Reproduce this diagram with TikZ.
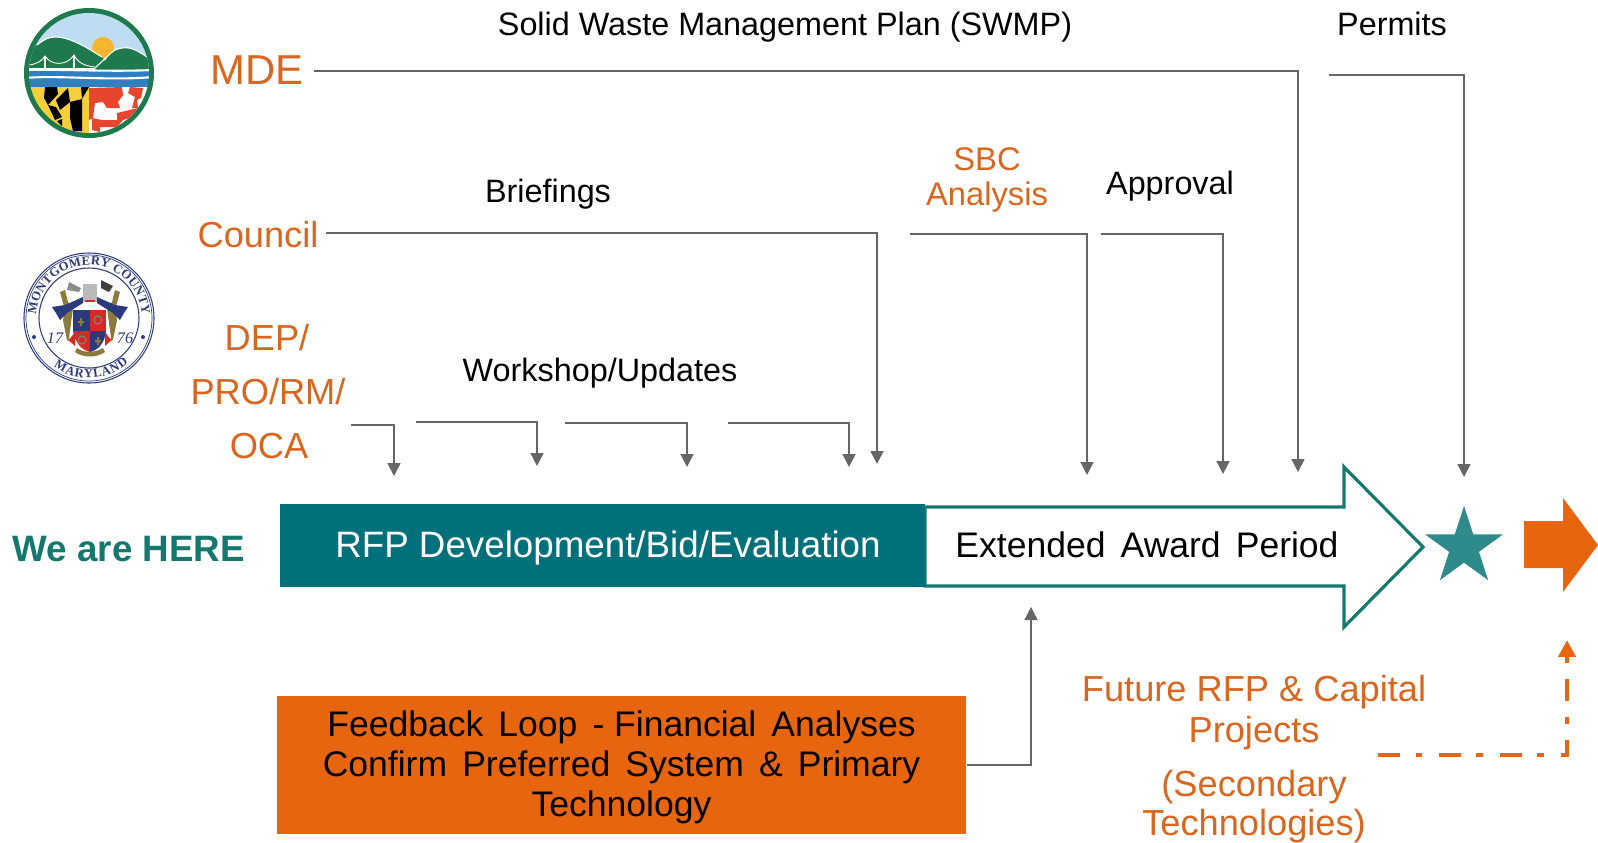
\documentclass[tikz,border=0pt]{standalone}
\usepackage{fontspec}
\setmainfont{Liberation Sans}
\newfontfamily\sealfont{Liberation Serif}
\usetikzlibrary{arrows.meta,shapes.geometric,decorations.text}
\definecolor{rfporange}{HTML}{E8650F}
\definecolor{labelorange}{HTML}{D9661F}
\definecolor{rfpteal}{HTML}{00707A}
\definecolor{startteal}{HTML}{2F8A8C}
\definecolor{outlineteal}{HTML}{14786E}
\definecolor{guidegray}{HTML}{666666}
\definecolor{mdegreen}{HTML}{1E7A4C}
\definecolor{mdesky}{HTML}{BFDDF2}
\definecolor{mdeblue}{HTML}{2F7FC1}
\definecolor{flagyellow}{HTML}{F6CE3A}
\definecolor{flagred}{HTML}{E8452F}
\definecolor{sunyellow}{HTML}{F5B52E}
\definecolor{sealblue}{HTML}{2B3A7C}
\definecolor{sealolive}{HTML}{8A7A3C}
\definecolor{sealred}{HTML}{D42A22}
\newcommand\sealtext{\color{sealblue}\sealfont\bfseries\fontsize{3.6}{5}\selectfont}
\tikzset{
  blackline/.style={font=\fontsize{9.2}{11}\selectfont,text=black},
  orangeline/.style={font=\fontsize{10.3}{12}\selectfont,text=labelorange},
  guide/.style={draw=guidegray,line width=0.4pt,-{Triangle[width=3.7pt,length=3.7pt]}},
  returnline/.style={draw=rfporange,line width=1.4pt,dash pattern=on 6.2pt off 4.5pt on 1.9pt off 4.7pt,-{Triangle[width=4.8pt,length=4.8pt]}},
}
\begin{document}
\begin{tikzpicture}[x=0.01cm,y=-0.01cm]
        \useasboundingbox (0,0) rectangle (1598,842);

        \begin{scope}[shift={(89,73)},x=0.01cm,y=0.01cm]
          \fill[mdegreen] (0,0) circle (65);
          \begin{scope}
            \clip (0,0) circle (60);
            \fill[mdesky] (-64,64) rectangle (64,0);
            \fill[sunyellow] (14,25) circle (11);
            \fill[mdegreen] (-64,18) -- (-52,28) .. controls (-44,34) and (-40,36) .. (-34,36) .. controls (-18,36) and (0,24) .. (13,16) -- (16,12) .. controls (20,18) and (24,23) .. (30,24) .. controls (40,27) and (50,22) .. (58,16) -- (64,10) -- (64,-5) -- (-64,-5) -- cycle;
            \draw[white,line width=0.3pt] (-52,28) .. controls (-44,34) and (-40,36) .. (-34,36) .. controls (-18,36) and (0,24) .. (13,16);
            \draw[white,line width=0.3pt] (6,5) -- (22,20) .. controls (26,24) and (32,26) .. (40,25) .. controls (46,24) and (52,20) .. (58,16);
            \draw[white,line width=0.3pt] (-60,4) -- (6,4);
            \draw[white,line width=0.3pt] (-44,4) -- (-44,17) (-15,4) -- (-15,18);
            \draw[white,line width=0.25pt] (-60,8) .. controls (-52,9) and (-47,12) .. (-44,17) .. controls (-38,7) and (-22,7) .. (-15,18) .. controls (-11,10) and (-4,7) .. (6,6);
            \fill[mdeblue] (-64,3) rectangle (64,-14);
            \draw[white,line width=0.6pt] (-64,3) .. controls (-30,4) and (20,1) .. (64,3);
            \draw[white,line width=0.6pt] (-64,-5) .. controls (-30,-2) and (20,-8) .. (64,-4);
            \fill[flagyellow] (-64,-14) rectangle (0,-64);
            \fill[white] (0,-14) rectangle (64,-64);
            \fill[black] (-44,-14) -- (-32,-14) -- (-31,-21) -- (-41,-32) -- (-45,-25) -- cycle;
            \fill[black] (-8,-14) -- (0,-14) -- (-7,-26) -- cycle;
            \fill[black] (-21,-15) -- (-19,-29) -- (-29,-37) -- (-33,-27) -- cycle;
            \fill[black] (-19,-29) -- (-7,-26) -- (-7,-58) -- (-16,-58) -- (-19,-45) -- cycle;
            \fill[black] (-41,-32) -- (-34,-47) -- (-27,-44) -- (-33,-34) -- cycle;
            \fill[black] (-32,-48) -- (-27,-46) -- (-27,-53) -- cycle;
            \fill[flagred] (0,-15) -- (33,-14) -- (34,-22) -- (29,-29) -- (31,-35) -- (18,-35) -- (14,-29) -- (6,-30) -- (4,-45) -- (0,-47) -- cycle;
            \fill[flagred] (41,-14) -- (54,-15) -- (52,-25) -- (48,-27) -- (49,-35) -- (43,-35) -- (46,-24) -- (39,-20) -- cycle;
            \fill[flagred] (3,-45) -- (13,-47) -- (28,-47) -- (28,-40) -- (49,-35) -- (44,-44) -- (34,-47) -- (28,-54) -- (11,-54) -- (11,-59) -- (3,-57) -- cycle;
          \end{scope}
        \end{scope}

        \begin{scope}[shift={(89,318)},x=0.01cm,y=0.01cm]
          \draw[sealblue,line width=0.3pt] (0,0) circle (65);
          \draw[sealblue,line width=0.2pt] (0,0) circle (63);
          \draw[sealblue,line width=0.3pt] (0,0) circle (50);
          \path[decorate,decoration={text along path,text align={fit to path},text={|\sealtext|MONTGOMERY COUNTY}}] (176:53) arc (176:4:53);
          \path[decorate,decoration={text along path,text align={fit to path},text={|\sealtext|MARYLAND}}] (234:60) arc (234:311:60);
          \fill[sealblue] (-55,-19) circle (2) (54,-19) circle (2);
          \node[text=sealblue] (seala) at (-34,-20) {\sealfont\itshape\fontsize{4.6}{6}\selectfont 17};
          \node[text=sealblue] (sealb) at (36,-20) {\sealfont\itshape\fontsize{4.6}{6}\selectfont 76};
          \fill[sealolive] (-14,-34) .. controls (-6,-40) and (8,-40) .. (16,-34) -- (14,-30) .. controls (6,-35) and (-6,-35) .. (-12,-30) -- cycle;
          \fill[sealolive] (-29,26) -- (-24,28) -- (-21,16) -- (-16,10) -- (-20,-20) -- (-16,-25) -- (-22,-22) -- (-26,-2) -- (-24,8) -- cycle;
          \fill[sealolive] (31,26) -- (26,28) -- (23,16) -- (18,10) -- (22,-20) -- (18,-25) -- (24,-22) -- (28,-2) -- (26,8) -- cycle;
          \fill[sealblue] (-37,11) -- (-24,13) -- (-6,21) -- (-6,15) -- (-22,5) -- (-29,-2) -- (-33,5) -- cycle;
          \fill[sealblue] (39,11) -- (26,13) -- (8,21) -- (8,15) -- (24,5) -- (31,-2) -- (35,5) -- cycle;
          \fill[gray!55] (-6,34) -- (8,34) -- (8,16) -- (-6,16) -- cycle;
          \fill[black!75] (12,38) -- (24,32) -- (20,26) -- (12,30) -- cycle;
          \fill[black!45] (-20,36) -- (-8,30) -- (-10,26) -- (-22,28) -- cycle;
          \fill[sealred] (-4,18) rectangle (6,16);
          \fill[sealblue] (-16,8) -- (1,8) -- (1,-13) -- (-16,-13) -- cycle;
          \fill[sealred] (1,8) -- (17,8) -- (17,-13) -- (1,-13) -- cycle;
          \fill[sealred] (-16,-13) -- (1,-13) -- (1,-34) .. controls (-8,-32) and (-14,-24) .. (-16,-13) -- cycle;
          \fill[sealblue] (1,-13) -- (17,-13) .. controls (16,-24) and (10,-32) .. (1,-34) -- cycle;
          \fill[sealolive] (-9,0) rectangle (-7,-8) (-11,-3) rectangle (-5,-5) (8,-19) rectangle (10,-27) (6,-22) rectangle (12,-24);
          \draw[black!50,line width=0.35pt] (9,-2) circle (4) (-7,-22) circle (4);
          \fill[sealred] (-20,-22) -- (-14,-14) -- (-14,-28) -- cycle (22,-22) -- (16,-14) -- (16,-28) -- cycle;
        \end{scope}

        \coordinate (neckleft) at (1344,507);
        \fill[white] (925,507) -- (1344,507) -- (1344,467) -- (1423,547) -- (1344,627) -- (1344,586) -- (925,586) -- cycle;
        \draw[outlineteal,line width=0.9pt] (925,507) -- (neckleft) -- (1344,467) -- (1423,547) -- (1344,627) -- (1344,586) -- (925,586) -- cycle;
        \fill[rfporange] (1524,521) -- (1563,521) -- (1563,498) -- (1598,545) -- (1563,592) -- (1563,568) -- (1524,568) -- cycle;

        \node[inner sep=0pt,minimum width=6.45cm,minimum height=0.83cm,fill=rfpteal] (rfpbar) at (602.5,545.5) {};
        \node[text=white,font=\fontsize{10.45}{12}\selectfont] (rfplabel) at (608,548) {RFP Development/Bid/Evaluation};
        \node[text=black,font=\fontsize{10.1}{12}\selectfont] (award) at (1147,545) {Extended\hspace{1.5pt} Award\hspace{1.5pt} Period};
        \node[star,star points=5,star point ratio=2.618,inner sep=0pt,minimum size=0.82cm,fill=startteal] (goal) at (1464,547) {};
        \node[font=\bfseries\fontsize{10.45}{12}\selectfont,text=outlineteal] (here) at (129,549) {We are HERE};

        \node[blackline] (swmp) at (785,27) {Solid Waste Management Plan (SWMP)};
        \node[blackline] (permits) at (1392,24) {Permits};
        \node[blackline] (briefings) at (548,194) {Briefings};
        \node[blackline] (approval) at (1170,186) {Approval};
        \node[blackline] (workshop) at (600,373) {Workshop/Updates};
        \node[orangeline,font=\fontsize{9.3}{11}\selectfont] (sbcone) at (987,159) {SBC};
        \node[orangeline,font=\fontsize{9.3}{11}\selectfont] (sbctwo) at (987,197) {Analysis};

        \node[orangeline,font=\fontsize{11.9}{13}\selectfont] (mde) at (257,70) {MDE};
        \node[orangeline] (council) at (258,235) {Council};
        \node[orangeline] (depone) at (267,338) {DEP/};
        \node[orangeline] (deptwo) at (268,392) {PRO/RM/};
        \node[orangeline] (depthree) at (269,446) {OCA};
        \node[orangeline] (future) at (1254,692) {Future RFP \& Capital};
        \node[orangeline] (projects) at (1254,733) {Projects};
        \node[orangeline] (secondary) at (1254,787) {(Secondary};
        \node[orangeline] (technologies) at (1254,826) {Technologies)};

        \node[inner sep=0pt,minimum width=6.89cm,minimum height=1.37cm,fill=rfporange] (feedback) at (621.5,765) {};
        \node[text=black,align=center,font=\fontsize{10.1}{11.35}\selectfont] (feedbacklabel) at (621.5,767) {Feedback\hspace{1.5pt} Loop\hspace{1.5pt} - Financial\hspace{1.5pt} Analyses\\Confirm\hspace{1.5pt} Preferred\hspace{1.5pt} System\hspace{1.5pt} \&\hspace{1.5pt} Primary\\Technology};

        \coordinate (mdestart) at (314,71);
        \coordinate (mdetip) at (1298,472);
        \coordinate (permitstart) at (1329,75);
        \coordinate (permittip) at (1464,477);
        \coordinate (councilstart) at (326,233);
        \coordinate (counciltip) at (877,464);
        \coordinate (sbcstart) at (910,234);
        \coordinate (sbctip) at (1087,475);
        \coordinate (approvalstart) at (1101,234);
        \coordinate (approvaltip) at (1223,474);
        \coordinate (depstart) at (351,425);
        \coordinate (deptip) at (394,476);
        \coordinate (updateonestart) at (416,422);
        \coordinate (updateonetip) at (537,466);
        \coordinate (updatetwostart) at (565,423);
        \coordinate (updatetwotip) at (687,467);
        \coordinate (updatethreestart) at (728,423);
        \coordinate (updatethreetip) at (849,467);
        \coordinate (feedbacktip) at (1031,607);
        \coordinate (returnstart) at (1378,755);
        \coordinate (returntip) at (1567,640);

        \draw[guide] (mdestart) -| (mdetip);
        \draw[guide] (permitstart) -| (permittip);
        \draw[guide] (councilstart) -| (counciltip);
        \draw[guide] (sbcstart) -| (sbctip);
        \draw[guide] (approvalstart) -| (approvaltip);
        \draw[guide] (depstart) -| (deptip);
        \draw[guide] (updateonestart) -| (updateonetip);
        \draw[guide] (updatetwostart) -| (updatetwotip);
        \draw[guide] (updatethreestart) -| (updatethreetip);
        \draw[guide] (feedback.east) -| (feedbacktip);
        \draw[returnline] (returnstart) -| (returntip);
\end{tikzpicture}
\end{document}
